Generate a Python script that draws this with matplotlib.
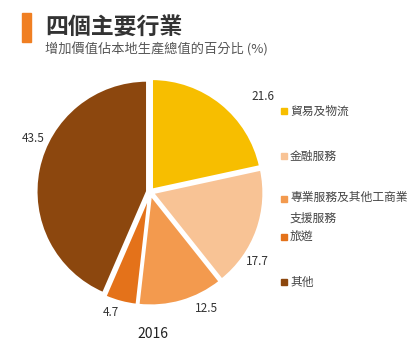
import matplotlib
matplotlib.use('Agg')
import matplotlib.pyplot as plt
from matplotlib.patches import Rectangle

plt.rcParams['font.family'] = ['Noto Sans CJK TC', 'DejaVu Sans']

# data
categories = ['貿易及物流', '金融服務', '專業服務及其他工商業\n支援服務', '旅遊', '其他']
values = [21.6, 17.7, 12.5, 4.7, 43.5]
year = '2016'
title = '四個主要行業'
subtitle = '增加價值佔本地生產總值的百分比 (%)'

colors = ['#F7BE00', '#F8C395', '#F39A4E', '#E4721A', '#8C470E']
label_pos = [(1.02, 0.86), (0.97, -0.63), (0.51, -1.05), (-0.35, -1.09), (-1.05, 0.48)]
legend_y = [111, 156, 199, 237, 282]

W, H = 414, 351
fig = plt.figure(figsize=(W / 100, H / 100), dpi=100)
fig.patch.set_facecolor('white')

# header
fig.patches.append(Rectangle((22 / W, 1 - 42 / H), 9 / W, 29 / H,
                             transform=fig.transFigure, color='#F07F22'))
fig.text(45 / W, 1 - 28 / H, title, fontsize=16.5, fontweight='bold',
         color='#333333', va='center', ha='left')
fig.text(45 / W, 1 - 50 / H, subtitle, fontsize=9.5, color='#555555',
         va='center', ha='left')

# pie
cx, cy, r = 150, 192, 111
ax = fig.add_axes([(cx - r) / W, 1 - (cy + r) / H, 2 * r / W, 2 * r / H])
ax.pie(values, colors=colors, startangle=90, counterclock=False,
       explode=[0.025] * len(values),
       wedgeprops=dict(edgecolor='white', linewidth=1.8))
ax.set_xlim(-1.0, 1.0)
ax.set_ylim(-1.0, 1.0)
ax.set_aspect('equal')
ax.axis('off')

for v, (x, y) in zip(values, label_pos):
    ax.text(x, y, '%.1f' % v, fontsize=8.5, color='#333333',
            ha='center', va='center', clip_on=False)
ax.text(0.03, -1.28, year, fontsize=10, color='#222222',
        ha='center', va='center', clip_on=False)

# legend
for name, c, ly in zip(categories, colors, legend_y):
    fig.patches.append(Rectangle((281 / W, 1 - (ly + 3) / H), 6 / W, 6 / H,
                                 transform=fig.transFigure, color=c))
    if '\n' in name:
        fig.text(290 / W, 1 - (ly - 8) / H, name, fontsize=8.5, color='#444444',
                 ha='left', va='top', linespacing=1.75)
    else:
        fig.text(290 / W, 1 - ly / H, name, fontsize=8.5, color='#444444',
                 ha='left', va='center')

plt.savefig('out.png', dpi=100)
